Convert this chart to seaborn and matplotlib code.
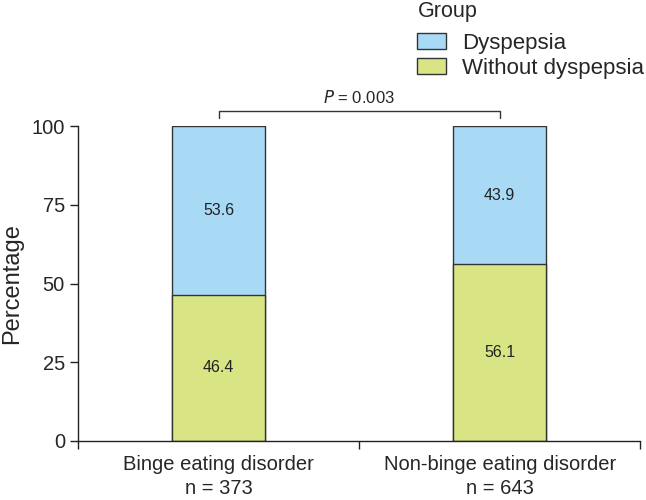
import numpy as np
import pandas as pd
import matplotlib
matplotlib.use("Agg")
import matplotlib.pyplot as plt
import seaborn as sns

# data
groups = ["Binge eating disorder\nn = 373", "Non-binge eating disorder\nn = 643"]
dyspepsia = [53.6, 43.9]
without_dyspepsia = [46.4, 56.1]
p_text = "$P$ = 0.003"

blue = "#A8DAF6"
green = "#D9E484"
edge = "#333333"

sns.set_style("ticks")
plt.rcParams["font.family"] = ["Liberation Sans", "DejaVu Sans"]

df = pd.DataFrame({"group": groups,
                   "total": [d + w for d, w in zip(dyspepsia, without_dyspepsia)],
                   "without": without_dyspepsia})

fig = plt.figure(figsize=(6.46, 5.0), dpi=100)
ax = fig.add_axes([0.121, 0.118, 0.870, 0.630])

sns.barplot(data=df, x="group", y="total", color=blue, width=0.33, saturation=1,
            edgecolor=edge, linewidth=1.0, ax=ax, label="Dyspepsia")
sns.barplot(data=df, x="group", y="without", color=green, width=0.33, saturation=1,
            edgecolor=edge, linewidth=1.0, ax=ax, label="Without dyspepsia")
if ax.get_legend() is not None:
    ax.get_legend().remove()

# value labels in the middle of each segment
for i in range(len(groups)):
    ax.text(i, without_dyspepsia[i] / 2, f"{without_dyspepsia[i]:.1f}",
            ha="center", va="center", fontsize=11.5, color="#222222")
    ax.text(i, without_dyspepsia[i] + dyspepsia[i] / 2, f"{dyspepsia[i]:.1f}",
            ha="center", va="center", fontsize=11.5, color="#222222")

ax.set_xlim(-0.5, 1.5)
ax.set_ylim(0, 100)
ax.set_yticks([0, 25, 50, 75, 100])
ax.set_xticks([-0.5, 0.5, 1.5], minor=True)
ax.set_xticks([0, 1])
ax.set_xticklabels(groups, linespacing=1.35)
ax.tick_params(axis="x", which="major", length=0, pad=10, labelsize=14.5)
ax.tick_params(axis="x", which="minor", length=6, width=1.0, color="#222222")
ax.tick_params(axis="y", length=6, width=1.0, color="#222222", labelsize=14.5)
ax.set_xlabel("")
ax.set_ylabel("Percentage", fontsize=17, labelpad=6)
sns.despine(ax=ax)
for s in ["left", "bottom"]:
    ax.spines[s].set_color("#222222")
    ax.spines[s].set_linewidth(1.0)

# significance bracket
ax.plot([0, 0, 1, 1], [2.5 + 100, 4.8 + 100, 4.8 + 100, 2.5 + 100],
        color="#333333", lw=1.0, clip_on=False)
ax.text(0.5, 106.5, p_text, ha="center", va="bottom", fontsize=12)

# legend with the title placed on its own
handles, labels = ax.get_legend_handles_labels()
fig.text(418 / 646, 1 - 12 / 500, "Group", ha="left", va="center", fontsize=15.5)
leg = fig.legend(handles, labels, loc="upper left",
                 bbox_to_anchor=(0.622, 0.966), frameon=False, fontsize=16,
                 handlelength=1.3, handleheight=0.7,
                 handletextpad=0.73, labelspacing=0.2, borderpad=0.2)

fig.savefig("out.png", dpi=100)
